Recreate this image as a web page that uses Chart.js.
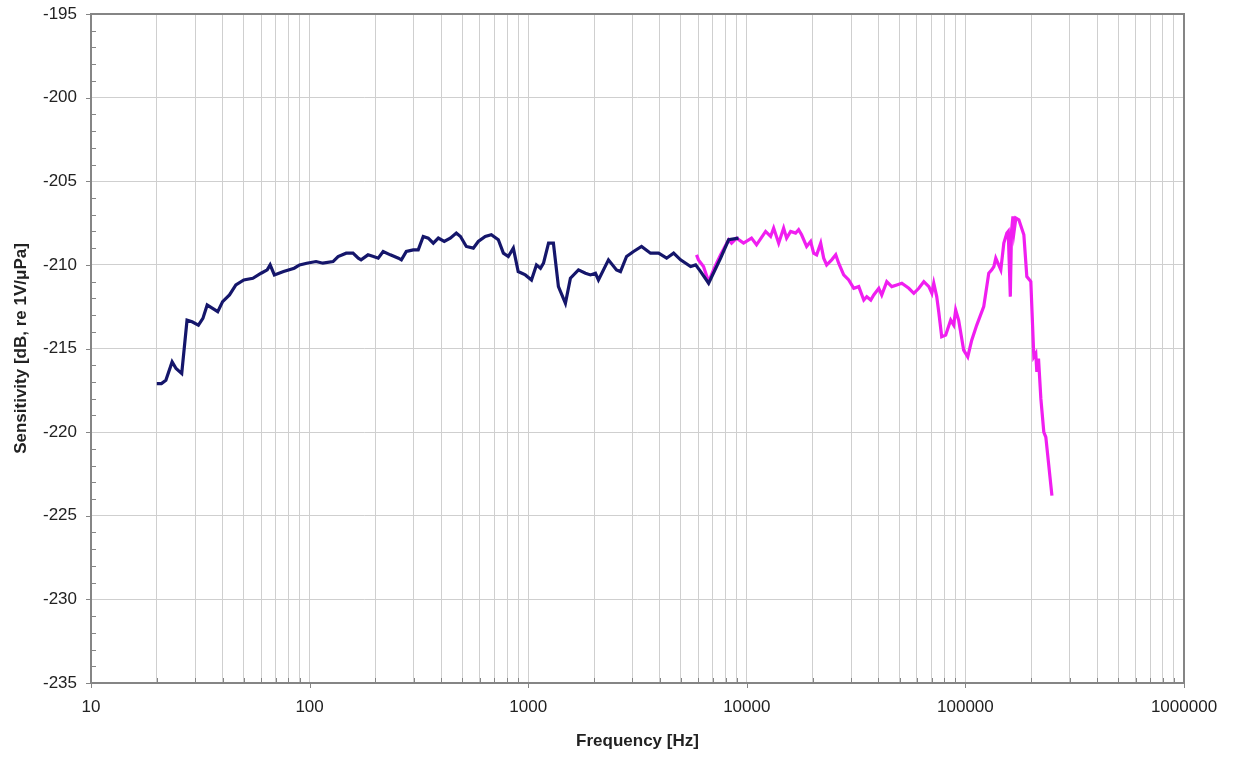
<!DOCTYPE html>
<html>
<head>
<meta charset="utf-8">
<script src="https://cdn.jsdelivr.net/npm/chart.js@4.4.0/dist/chart.umd.min.js"></script>
<style>
  html, body { margin: 0; padding: 0; background: #fff; }
  #wrap { width: 1233px; height: 763px; position: relative; }
</style>
</head>
<body>
<div id="wrap"><canvas id="myChart"></canvas></div>
<script>
// hydrophone sensitivity, two measurement ranges
const lowFreq = [20, 21, 22, 23.5, 24.5, 26, 27.5, 29, 31, 32.5, 34, 36, 38, 40, 43, 46, 50, 55, 60, 64,
  66, 69, 76, 85, 90, 97, 107, 115, 128, 135, 147, 158, 167, 172, 185, 196, 206, 217, 234, 255,
  263, 277, 298, 314, 331, 349, 368, 388, 413, 440, 469, 490, 521, 561, 591, 636, 678, 730, 770, 811,
  855, 900, 970, 1035, 1091, 1138, 1175, 1239, 1304, 1375, 1480, 1560, 1698, 1828, 1927, 2031, 2096, 2329, 2535, 2643,
  2818, 3033, 3300, 3627, 3950, 4297, 4626, 4977, 5533, 5834, 6151, 6690, 7589, 8260, 9170];
const lowSens = [-217.1, -217.1, -216.9, -215.8, -216.2, -216.5, -213.3, -213.4, -213.6, -213.2,
  -212.4, -212.6, -212.8, -212.2, -211.8, -211.2, -210.9, -210.8, -210.5, -210.3,
  -210.0, -210.6, -210.4, -210.2, -210.0, -209.9, -209.8, -209.9, -209.8, -209.5,
  -209.3, -209.3, -209.6, -209.7, -209.4, -209.5, -209.6, -209.2, -209.4, -209.6,
  -209.7, -209.2, -209.1, -209.1, -208.3, -208.4, -208.7, -208.4, -208.6, -208.4,
  -208.1, -208.3, -208.9, -209.0, -208.6, -208.3, -208.2, -208.5, -209.3, -209.5,
  -209.0, -210.4, -210.6, -210.9, -210.0, -210.2, -209.9, -208.7, -208.7, -211.3,
  -212.3, -210.8, -210.3, -210.5, -210.6, -210.5, -210.9, -209.7, -210.3, -210.4,
  -209.5, -209.2, -208.9, -209.3, -209.3, -209.6, -209.3, -209.7, -210.1, -210.0,
  -210.4, -211.1, -209.6, -208.5, -208.4];

const highFreq = [5888, 6012, 6338, 6683, 7046, 7273, 7592, 8260, 8516, 8980,
  9664, 10510, 11080, 12190, 12850, 13270, 13990, 14740, 15210, 15870,
  16720, 17260, 17810, 18780, 19590, 20220, 20870, 21780, 22480, 23190,
  24450, 25520, 26320, 27750, 29260, 30850, 32520, 34290, 35380, 36910,
  38090, 40160, 41430, 43680, 46050, 48550, 51180, 55090, 58080, 61230,
  64550, 68060, 70230, 71660, 73930, 75500, 77910, 81250, 85660, 88400,
  90260, 93120, 98190, 102500, 106900, 112700, 121300, 127900, 132000, 135000,
  137700, 145200, 149900, 154800, 157000, 160500, 162500, 165000, 167000, 170200,
  175600, 185100, 191000, 199200, 205600, 209900, 212200, 216000, 221400, 228400,
  233300, 248800];
const highSens = [-209.4, -209.7, -210.1, -211.0, -210.3, -209.9, -209.4, -208.5, -208.7, -208.4,
  -208.7, -208.4, -208.8, -208.0, -208.3, -207.8, -208.7, -207.8, -208.4, -208.0,
  -208.1, -207.9, -208.2, -208.9, -208.6, -209.3, -209.4, -208.7, -209.6, -210.0,
  -209.7, -209.4, -209.9, -210.6, -210.9, -211.4, -211.3, -212.1, -211.9, -212.1,
  -211.8, -211.4, -211.8, -211.0, -211.3, -211.2, -211.1, -211.4, -211.7, -211.4,
  -211.0, -211.3, -211.7, -211.1, -211.9, -212.8, -214.3, -214.2, -213.3, -213.6,
  -212.7, -213.3, -215.1, -215.5, -214.5, -213.6, -212.5, -210.5, -210.3, -210.1,
  -209.6, -210.3, -208.7, -208.1, -208.0, -211.9, -208.0, -207.1, -208.0, -207.2,
  -207.3, -208.2, -210.7, -211.0, -215.5, -215.3, -216.4, -215.6, -218.0, -220.0,
  -220.3, -223.8];

const xTicks = [];
for (let d = 10; d < 1000000; d *= 10) {
  for (let k = 1; k < 10; k++) xTicks.push(d * k);
}
xTicks.push(1000000);

const font = 'Liberation Sans, Arial, sans-serif';
const gridColor = '#cfcfcf';
const axisColor = '#858585';

function isDecade(v) {
  const l = Math.log10(v);
  return Math.abs(l - Math.round(l)) < 1e-9;
}

// minor/major tick marks and plot frame
const frame = {
  id: 'frame',
  afterDraw(chart) {
    const ctx = chart.ctx;
    const a = chart.chartArea;
    const x = chart.scales.x;
    const y = chart.scales.y;
    ctx.save();
    ctx.strokeStyle = axisColor;
    ctx.lineWidth = 1;
    ctx.beginPath();
    for (let v = -235; v <= -195; v++) {
      const py = Math.round(y.getPixelForValue(v)) + 0.5;
      if (v % 5 === 0) {
        ctx.moveTo(a.left - 5, py);
        ctx.lineTo(a.left, py);
      } else {
        ctx.moveTo(a.left, py);
        ctx.lineTo(a.left + 5, py);
      }
    }
    xTicks.forEach(v => {
      const px = Math.round(x.getPixelForValue(v)) + 0.5;
      if (isDecade(v)) {
        ctx.moveTo(px, a.bottom);
        ctx.lineTo(px, a.bottom + 5);
      } else {
        ctx.moveTo(px, a.bottom);
        ctx.lineTo(px, a.bottom - 5);
      }
    });
    ctx.stroke();
    ctx.lineWidth = 2;
    ctx.strokeRect(a.left, a.top, a.right - a.left, a.bottom - a.top);
    ctx.restore();
  }
};

const ctx = document.getElementById('myChart');
new Chart(ctx, {
  type: 'line',
  data: {
    datasets: [
      {
        label: 'low',
        data: lowFreq.map((f, i) => ({ x: f, y: lowSens[i] })),
        borderColor: '#15166b',
        borderWidth: 3.2,
        pointRadius: 0,
        tension: 0,
        order: 0,
      },
      {
        label: 'high',
        data: highFreq.map((f, i) => ({ x: f, y: highSens[i] })),
        borderColor: '#f01ef0',
        borderWidth: 3.2,
        pointRadius: 0,
        tension: 0,
        order: 1,
      },
    ],
  },
  options: {
    responsive: true,
    maintainAspectRatio: false,
    animation: false,
    layout: { padding: { top: 14, right: 49, left: 0, bottom: 0 } },
    plugins: {
      legend: { display: false },
      tooltip: { enabled: false },
    },
    scales: {
      x: {
        type: 'logarithmic',
        min: 10,
        max: 1000000,
        afterBuildTicks: axis => { axis.ticks = xTicks.map(v => ({ value: v })); },
        afterFit: axis => {
          axis.height = 80;
          axis.paddingLeft = 0;
          axis.paddingRight = 0;
        },
        ticks: {
          autoSkip: false,
          maxRotation: 0,
          padding: 14,
          color: '#222',
          font: { family: font, size: 17 },
          callback: v => (isDecade(v) ? String(v) : ''),
        },
        grid: { color: gridColor, drawTicks: false },
        border: { display: false },
        title: {
          display: true,
          text: 'Frequency [Hz]',
          color: '#222',
          font: { family: font, size: 17, weight: 'bold' },
          padding: { top: 0, bottom: 11 },
        },
      },
      y: {
        min: -235,
        max: -195,
        afterFit: axis => {
          axis.width = 91;
          axis.paddingTop = 0;
          axis.paddingBottom = 0;
        },
        ticks: {
          stepSize: 5,
          padding: 14,
          color: '#222',
          font: { family: font, size: 17 },
        },
        grid: { color: gridColor, drawTicks: false },
        border: { display: false },
        title: {
          display: true,
          text: 'Sensitivity [dB, re 1V/μPa]',
          color: '#222',
          font: { family: font, size: 17, weight: 'bold' },
          padding: { top: 11, bottom: 0 },
        },
      },
    },
  },
  plugins: [frame],
});
</script>
</body>
</html>
